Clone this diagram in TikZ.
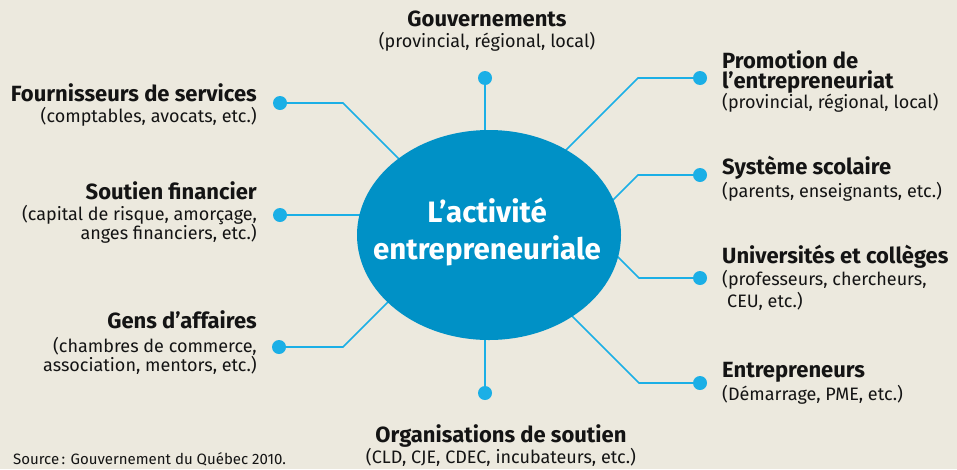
\documentclass[tikz,border=0pt]{standalone}
\usepackage{fontspec}
\setmainfont{Fira Sans}
\usetikzlibrary{calc,shapes.geometric}
\definecolor{bg}{RGB}{236,233,222}
\definecolor{ellblue}{RGB}{0,145,198}
\definecolor{linkblue}{RGB}{27,175,230}
\definecolor{ink}{RGB}{20,20,20}
\tikzset{
  dot/.style={circle, fill=linkblue, inner sep=0pt, minimum size=14pt},
  link/.style={draw=linkblue, line width=1.6pt},
  lbl/.style={inner sep=0pt, text=ink, font=\fontsize{18}{20}\selectfont},
  hub/.style={ellipse, fill=ellblue, inner sep=0pt, minimum width=264pt, minimum height=210pt},
  hubtext/.style={inner sep=0pt, text=white, align=center, font=\fontsize{29.5}{37}\selectfont\bfseries},
}
\newcommand{\ttltext}[1]{{\fontsize{22}{22}\selectfont\bfseries #1}}
\begin{document}
\begin{tikzpicture}[x=1pt,y=-1pt]
\useasboundingbox[fill=bg] (0,0) rectangle (957,469);

% dots
\node[dot] (dG)  at (485,78)  {};
\node[dot] (dO)  at (485,393) {};
\node[dot] (dF)  at (280,103) {};
\node[dot] (dS)  at (280,215) {};
\node[dot] (dA)  at (279,347) {};
\node[dot] (dP)  at (700,78)  {};
\node[dot] (dSy) at (700,175) {};
\node[dot] (dU)  at (700,278) {};
\node[dot] (dE)  at (700,383) {};

% elbows
\coordinate (eF)  at (343,103);
\coordinate (eA)  at (343,347);
\coordinate (eP)  at (638,78);
\coordinate (eSy) at (638,175);
\coordinate (eU)  at (639,278);
\coordinate (eE)  at (639,383);
\coordinate (cc)  at (489,235);

% connectors (ends hidden under the ellipse)
\draw[link] (dG) -- (dG |- cc);
\draw[link] (dO) -- (dO |- cc);
\draw[link] (dF) -- (eF) -- ($(eF)+(100,100)$);
\draw[link] (dS) -- ($(dS)+(140,0)$);
\draw[link] (dA) -- (eA) -- ($(eA)+(80,-80)$);
\draw[link] (dP) -- (eP) -- ($(eP)+(-100,100)$);
\draw[link] (dSy) -- (eSy) -- ($(eSy)+(-60,60)$);
\draw[link] (dU) -- (eU) -- ($(eU)+(-60,-60)$);
\draw[link] (dE) -- (eE) -- ($(eE)+(-100,-100)$);

% hub
\node[hub] (c) at (cc) {};
\node[hubtext] (ct) at (487,231.5) {L’activité\\entrepreneuriale};

% labels left
\node[lbl, anchor=north east, align=right] (tF) at (257,83)
  {\ttltext{Fournisseurs de services}\\[1pt](comptables, avocats, etc.)};
\node[lbl, anchor=north east, align=right] (tS) at (257,181)
  {\ttltext{Soutien financier}\\[1pt](capital de risque, amorçage,\\[-1pt]anges financiers, etc.)};
\node[lbl, anchor=north east, align=right] (tA) at (257,310)
  {\ttltext{Gens d’affaires}\\[4pt](chambres de commerce,\\[-1pt]association, mentors, etc.)};

% labels right
\node[lbl, anchor=north west, align=left] (tP) at (722,50)
  {\ttltext{Promotion de}\\[0pt]\ttltext{l’entrepreneuriat}\\[-1pt](provincial, régional, local)};
\node[lbl, anchor=north west, align=left] (tSy) at (722,156)
  {\ttltext{Système scolaire}\\[2pt](parents, enseignants, etc.)};
\node[lbl, anchor=north west, align=left] (tU) at (722,245)
  {\ttltext{Universités et collèges}\\[1pt](professeurs, chercheurs,\\[2pt]\hspace{5pt}CEU, etc.)};
\node[lbl, anchor=north west, align=left] (tE) at (722,362)
  {\ttltext{Entrepreneurs}\\[2pt](Démarrage, PME, etc.)};

% labels top / bottom
\node[lbl, anchor=north, align=center] (tG) at (487,10.5)
  {\ttltext{Gouvernements}\\[1pt](provincial, régional, local)};
\node[lbl, anchor=north, align=center] (tO) at (501,424.5)
  {\ttltext{Organisations de soutien}\\[0pt](CLD, CJE, CDEC, incubateurs, etc.)};

% source
\node[inner sep=0pt, anchor=base west, text=ink, font=\fontsize{15}{17}\selectfont] (src) at (13,464)
  {Source\,: Gouvernement du Québec 2010.};
\end{tikzpicture}
\end{document}
